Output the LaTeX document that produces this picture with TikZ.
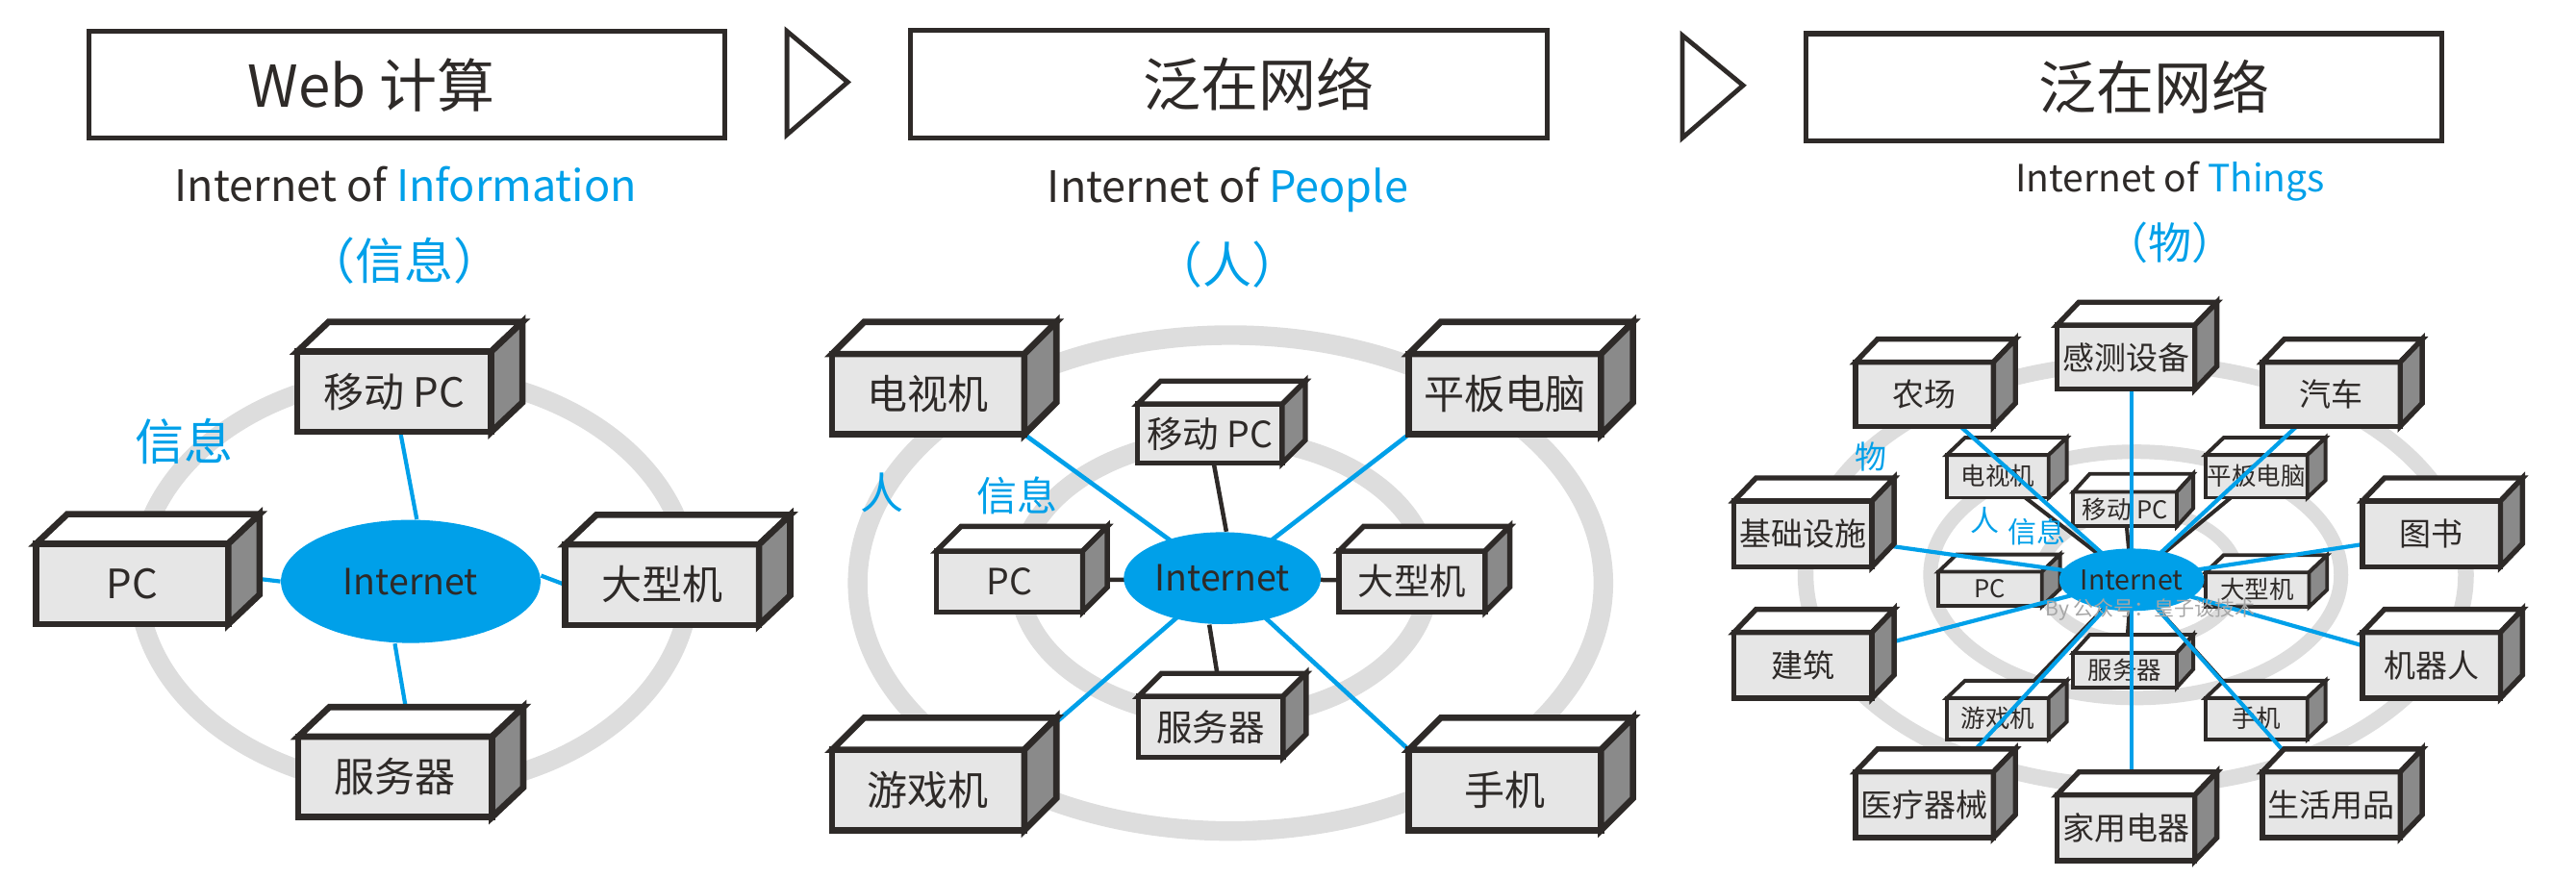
\documentclass[tikz,border=0pt]{standalone}
\usepackage{fontspec}
\setmainfont{Noto Sans CJK SC}
\usetikzlibrary{calc,shapes.geometric}
\definecolor{ibl}{RGB}{0,160,233}
\definecolor{ink}{RGB}{46,42,40}
\definecolor{frontc}{RGB}{230,230,230}
\definecolor{sidec}{RGB}{138,138,138}
\definecolor{ringc}{RGB}{221,221,221}
\pgfdeclarelayer{rings}
\pgfdeclarelayer{blk}
\pgfdeclarelayer{inner}
\pgfdeclarelayer{blu}
\pgfsetlayers{rings,blk,inner,blu,main}
\newcommand\fsz[1]{\fontsize{#1}{#1}\selectfont}
\newcommand\mycube[9]{%
  \node[cubefront,#1,minimum width={#5*0.02cm},minimum height={#6*0.02cm}] (#2) at (#3,#4) {#9};
  \draw[cubeface,#1,fill=white] (#2.north west) -- ++(#7,-#8) -- ($(#2.north east)+(#7,-#8)$) -- (#2.north east) -- cycle;
  \draw[cubeface,#1,fill=sidec] (#2.north east) -- ++(#7,-#8) -- ($(#2.south east)+(#7,-#8)$) -- (#2.south east) -- cycle;
}
\begin{document}
\begin{tikzpicture}[x=0.02cm,y=-0.02cm,
  cubefront/.style={draw=ink,fill=frontc,inner sep=0pt,outer sep=0pt,text=ink},
  cubeface/.style={draw=ink},
  bigbox/.style={line width=2.2pt,font=\fsz{14}},
  midbox/.style={line width=1.8pt,font=\fsz{12.5}},
  p3out/.style={line width=1.8pt,font=\fsz{11}},
  p3in/.style={line width=1.3pt,font=\fsz{8.5}},
  banner/.style={draw=ink,line width=1.7pt,fill=white,inner sep=0pt},
  bantext/.style={text=ink,font=\fsz{20}},
  tri/.style={draw=ink,line width=1.6pt},
  sub/.style={text=ink},
  paren/.style={text=ibl},
  ring/.style={draw=ringc},
  inet/.style={ellipse,fill=ibl,inner sep=0pt,text=ink},
  bline/.style={draw=ibl,line width=1.4pt},
  kline/.style={draw=ink,line width=1.5pt},
  lab/.style={text=ibl}]
\useasboundingbox (0,0) rectangle (1568,534);

%================ Panel 1 =================
\node[banner,minimum width=7.74cm,minimum height=1.3cm] (ban1) at (247.5,51.5) {};
\node[bantext] (bt1) at (226,52) {Web 计算};
\draw[tri] (479,19) -- (516,50) -- (479,82) -- cycle;
\node[sub,anchor=base,font=\fsz{15}] (sub1) at (247,122.5) {Internet of \textcolor{ibl}{Information}};
\node[paren,font=\fsz{17}] (par1) at (246,159) {（信息）};

\begin{pgfonlayer}{rings}
\draw[ring,line width=6.5pt] (252,354) ellipse [x radius=3.36cm, y radius=2.52cm];
\end{pgfonlayer}

\node[inet,minimum width=3.16cm,minimum height=1.5cm,font=\fsz{12.5}] (inet1) at (250,354) {Internet};
\mycube{bigbox}{mob1}{240}{238.5}{118}{49}{19}{18}{移动 PC}
\mycube{bigbox}{pc1}{80.5}{355.5}{117}{49}{19}{18}{PC}
\mycube{bigbox}{main1}{403}{356}{118}{49}{19}{18}{大型机}
\mycube{bigbox}{serv1}{240.5}{473}{118}{49}{19}{18}{服务器}

\begin{pgfonlayer}{blu}
\draw[bline] ([xshift=2.1pt]inet1.north) -- ([xshift=2.1pt]mob1.south);
\draw[bline] ([xshift=-5.5pt]inet1.south) -- ([xshift=5.4pt]serv1.north);
\draw[bline] (inet1.west) -- ([yshift=3pt]pc1.east);
\draw[bline] ([yshift=2pt]inet1.east) -- (main1.west);
\end{pgfonlayer}

\node[lab,font=\fsz{17}] (l1info) at (112,269) {信息};

%================ Panel 2 =================
\node[banner,minimum width=7.75cm,minimum height=1.31cm] (ban2) at (748,51.25) {};
\node[bantext] (bt2) at (766,51) {泛在网络};
\draw[tri] (1024,21.5) -- (1061,52) -- (1024,84) -- cycle;
\node[sub,anchor=base,font=\fsz{15}] (sub2) at (747.5,123) {Internet of \textcolor{ibl}{People}};
\node[paren,font=\fsz{17}] (par2) at (747,161) {（人）};

\begin{pgfonlayer}{rings}
\draw[ring,line width=6.8pt] (749,355) ellipse [x radius=4.54cm, y radius=3.02cm];
\draw[ring,line width=6.8pt] (745,352) ellipse [x radius=2.5cm, y radius=1.7cm];
\end{pgfonlayer}

\node[inet,minimum width=2.4cm,minimum height=1.12cm,font=\fsz{12.5}] (inet2) at (744,352) {Internet};
\mycube{bigbox}{tv2}{565}{240}{117}{49}{19.5}{19.5}{电视机}
\mycube{bigbox}{tab2}{916}{240}{117}{49}{19.5}{19.5}{平板电脑}
\mycube{bigbox}{game2}{565}{481}{117}{49}{19.5}{19.5}{游戏机}
\mycube{bigbox}{phone2}{916}{481}{117}{49}{19.5}{19.5}{手机}
\begin{pgfonlayer}{inner}
\mycube{midbox}{mob2}{736.5}{264}{88}{36}{14}{14}{移动 PC}
\mycube{midbox}{pc2}{614.5}{354}{89}{37}{15}{15}{PC}
\mycube{midbox}{main2}{859.5}{354}{89}{37}{15}{15}{大型机}
\mycube{midbox}{serv2}{737}{442.5}{88}{37}{14}{14}{服务器}
\end{pgfonlayer}

\begin{pgfonlayer}{blk}
\draw[kline] ([xshift=1.4pt]inet2.north) -- ([xshift=1.3pt]mob2.south);
\draw[kline] (inet2.center) -- (pc2.center);
\draw[kline] (inet2.center) -- (main2.center);
\draw[kline] ([xshift=-4.5pt]inet2.south) -- ([xshift=3.5pt]serv2.north);
\end{pgfonlayer}
\begin{pgfonlayer}{blu}
\draw[bline,line width=1.55pt] (inet2.center) -- (tv2.south east);
\draw[bline,line width=1.55pt] (inet2.center) -- (tab2.south west);
\draw[bline,line width=1.55pt] (inet2.center) -- (game2.north east);
\draw[bline,line width=1.55pt] (inet2.center) -- (phone2.north west);
\end{pgfonlayer}

\node[lab,font=\fsz{15}] (l2ren) at (537,300) {人};
\node[lab,font=\fsz{14}] (l2info) at (619,302) {信息};

%================ Panel 3 =================
\node[banner,minimum width=7.74cm,minimum height=1.31cm] (ban3) at (1293,53.25) {};
\node[bantext] (bt3) at (1311,53) {泛在网络};
\node[sub,anchor=base,font=\fsz{13}] (sub3) at (1321,117) {Internet of \textcolor{ibl}{Things}};
\node[paren,font=\fsz{15}] (par3) at (1321,148) {（物）};

\begin{pgfonlayer}{rings}
\draw[ring,line width=5.5pt] (1300,350) ellipse [x radius=4.02cm, y radius=2.58cm];
\draw[ring,line width=5pt] (1300,350) ellipse [x radius=2.5cm, y radius=1.5cm];
\draw[ring,line width=4.5pt] (1302,351) ellipse [x radius=1.2cm, y radius=0.8cm];
\end{pgfonlayer}

\node[inet,minimum width=1.64cm,minimum height=0.76cm,font=\fsz{9.5}] (inet3) at (1297.5,353) {Internet};

\mycube{p3out}{farm}{1171.4}{240}{84}{39}{13.4}{14}{农场}
\mycube{p3out}{sense}{1294}{217.5}{84}{39}{13.4}{14}{感测设备}
\mycube{p3out}{car}{1419}{240}{84}{39}{13.4}{14}{汽车}
\mycube{p3out}{infra}{1097.5}{325}{84}{40}{13.4}{14}{基础设施}
\mycube{p3out}{book}{1480}{325}{84}{40}{13.4}{14}{图书}
\mycube{p3out}{build}{1097.5}{405}{84}{40}{13.4}{14}{建筑}
\mycube{p3out}{robot}{1480}{405}{84}{40}{13.4}{14}{机器人}
\mycube{p3out}{med}{1171.4}{490}{84}{40}{13.4}{14}{医疗器械}
\mycube{p3out}{home}{1294}{504}{84}{40}{13.4}{14}{家用电器}
\mycube{p3out}{life}{1419}{490}{84}{40}{13.4}{14}{生活用品}

\begin{pgfonlayer}{inner}
\mycube{p3in}{tv3}{1216}{290}{62}{26}{11}{10.5}{电视机}
\mycube{p3in}{tab3}{1373.5}{290}{62}{26}{11}{10.5}{平板电脑}
\mycube{p3in}{mob3}{1293.5}{310}{63}{21}{10}{11}{移动 PC}
\mycube{p3in}{pc3}{1211.4}{358.6}{63}{21}{11}{10.5}{PC}
\mycube{p3in}{main3}{1374}{359}{63}{21}{11}{10.5}{大型机}
\mycube{p3in}{serv3}{1293.5}{408}{63}{21}{10}{11}{服务器}
\mycube{p3in}{game3}{1216}{437.5}{62}{25}{11}{10.5}{游戏机}
\mycube{p3in}{phone3}{1373.5}{437.5}{62}{25}{11}{10.5}{手机}
\end{pgfonlayer}

\begin{pgfonlayer}{blk}
\foreach \t in {tv3,tab3,mob3,pc3,main3,serv3,game3,phone3}
  \draw[kline,line width=1.35pt] (inet3.center) -- (\t.center);
\end{pgfonlayer}
\begin{pgfonlayer}{blu}
\foreach \t in {farm,car,infra,book,build,robot,med,life}
  \draw[bline] (inet3.center) -- (\t.center);
\draw[bline] (inet3.center) -- (inet3.center |- sense.south);
\draw[bline] (inet3.center) -- (inet3.center |- home.north);
\end{pgfonlayer}

\node[lab,font=\fsz{11}] (l3wu) at (1139,278) {物};
\node[lab,font=\fsz{10}] (l3ren) at (1208,317) {人};
\node[lab,font=\fsz{10}] (l3info) at (1240,324) {信息};
\node[text=black!35,font=\fsz{7}] (wm) at (1309,371) {By 公众号：皇子谈技术};
\end{tikzpicture}
\end{document}
